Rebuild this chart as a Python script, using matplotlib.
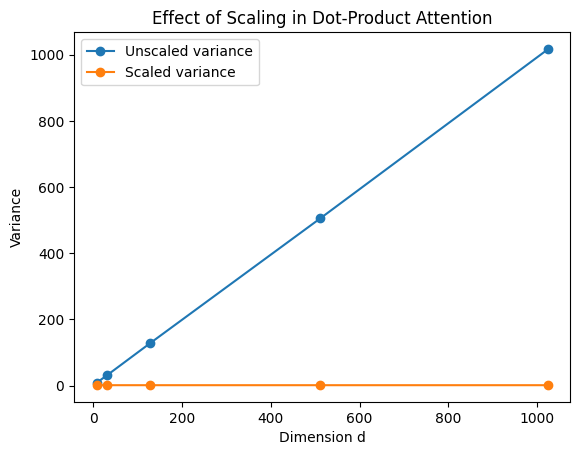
import matplotlib
matplotlib.use("Agg")
import matplotlib.pyplot as plt

dims = [8, 32, 128, 512, 1024]
unscaled_var = [8.1, 31.5, 127.5, 506.0, 1017.0]
scaled_var = [1.0, 0.99, 1.0, 0.99, 0.99]

fig, ax = plt.subplots(figsize=(5.8, 4.55), dpi=100)
ax.plot(dims, unscaled_var, marker='o', label='Unscaled variance')
ax.plot(dims, scaled_var, marker='o', label='Scaled variance')
ax.set_xlabel("Dimension d")
ax.set_ylabel("Variance")
ax.set_title("Effect of Scaling in Dot-Product Attention")
ax.legend()
fig.subplots_adjust(left=0.1276, right=0.9836, top=0.9286, bottom=0.1165)
plt.savefig("out.png")
